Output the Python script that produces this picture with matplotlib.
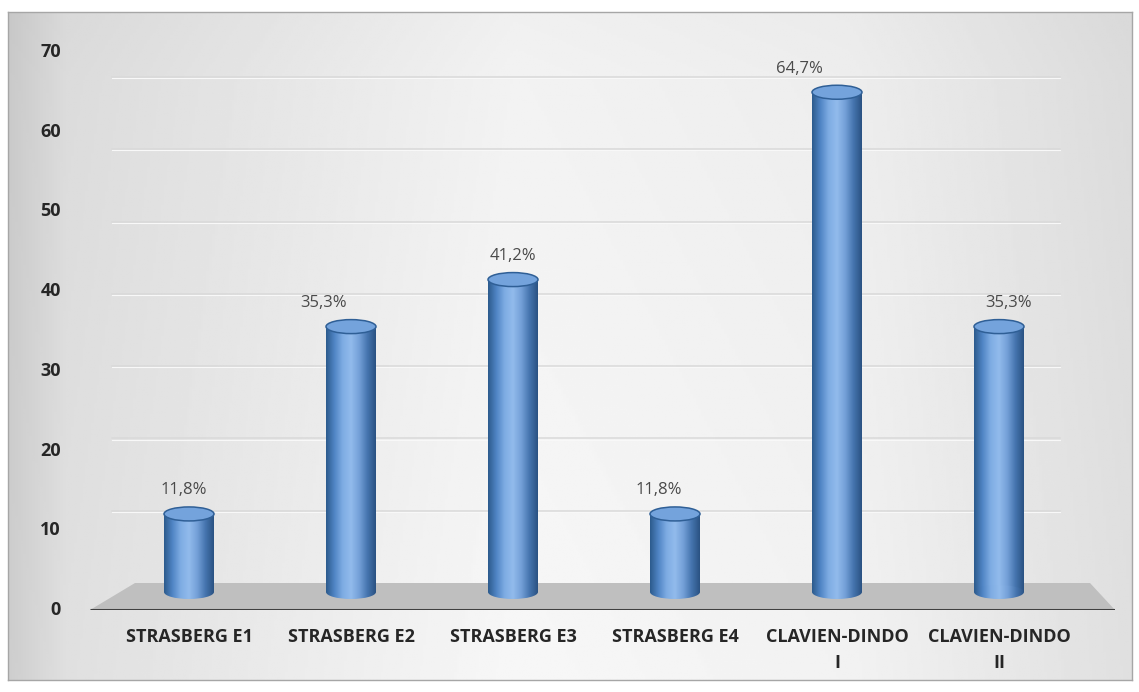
import numpy as np
import matplotlib
matplotlib.use("Agg")
import matplotlib.pyplot as plt
from matplotlib.patches import Rectangle, Ellipse, Polygon
from matplotlib.colors import LinearSegmentedColormap

categories = ["STRASBERG E1", "STRASBERG E2", "STRASBERG E3",
              "STRASBERG E4", "CLAVIEN-DINDO\nI", "CLAVIEN-DINDO\nII"]
values = [11.8, 35.3, 41.2, 11.8, 64.7, 35.3]
value_labels = ["11,8%", "35,3%", "41,2%", "11,8%", "64,7%", "35,3%"]
yticks = [0, 10, 20, 30, 40, 50, 60, 70]

# label nudges in points (Excel auto placement)
label_dx = [-4, -20, 0, -12, -27, 7]

W, H = 1139, 692
fig = plt.figure(figsize=(W / 100, H / 100), dpi=100)
fig.patch.set_facecolor("white")

# gradient background inside thin frame
bg = fig.add_axes([8 / W, 1 - 680 / H, (1132 - 8) / W, (680 - 12) / H])
xs = np.linspace(0, 1, 400)
hz = np.interp(xs, [0, 0.05, 0.45, 0.75, 1.0], [0.79, 0.86, 0.95, 0.93, 0.86])
vt = np.interp(np.linspace(0, 1, 300), [0, 0.1, 1], [0.99, 1.0, 1.02])
img = np.clip(np.outer(vt, hz), 0, 1)
bg.imshow(img, cmap="gray", vmin=0, vmax=1, aspect="auto", extent=[0, 1, 0, 1])
bg.set_xlim(0, 1)
bg.set_ylim(0, 1)
bg.set_xticks([])
bg.set_yticks([])
for s in bg.spines.values():
    s.set_color("#a6a6a6")
    s.set_linewidth(1)

# main axes: front floor edge from x=90 to 1115 px, 0 at 608 px, 70 at 50 px
ppu = (608 - 50) / 70
y_lo = -(610 - 608) / ppu
y_hi = 70 + (50 - 40) / ppu
ax = fig.add_axes([90 / W, 1 - 610 / H, (1115 - 90) / W, (610 - 40) / H])
ax.patch.set_alpha(0)
x0, step = 189, 162
ax.set_xlim((90 - x0) / step, (1115 - x0) / step)
ax.set_ylim(y_lo, y_hi)
for s in ax.spines.values():
    s.set_visible(False)

def px2x(p):
    return (p - x0) / step

def px2y(p):
    return (608 - p) / ppu

# back wall gridlines
for v in yticks[1:]:
    yb = px2y(583) + v * (583 - 77) / 70 / ppu
    ax.plot([px2x(112), px2x(1060)], [yb, yb], color="#d9d9d9", lw=1.1, zorder=1)
    ax.plot([px2x(112), px2x(1060)], [yb - 0.15, yb - 0.15], color="#f8f8f8", lw=0.8, zorder=1)

# floor
floor = Polygon([(px2x(90), px2y(610)), (px2x(135), px2y(583)),
                 (px2x(1090), px2y(583)), (px2x(1115), px2y(610))],
                closed=True, facecolor="#bfbfbf", edgecolor="none", zorder=2)
ax.add_patch(floor)
ax.plot([px2x(90), px2x(1115)], [px2y(609.5), px2y(609.5)], color="#404040", lw=2.2,
        zorder=3, solid_capstyle="butt")

# cylinders
cyl = LinearSegmentedColormap.from_list(
    "cyl", ["#2c5a8c", "#4f84c4", "#7eace3", "#92bbec", "#74a0d8", "#4574ae", "#2a5282"])
grad = np.linspace(0, 1, 256).reshape(1, -1)
bw = 50 / step
base = px2y(592)
eh = 14 / ppu
for i, v in enumerate(values):
    xl, xr = i - bw / 2, i + bw / 2
    body = Rectangle((xl, base), bw, v - base, transform=ax.transData)
    bot = Ellipse((i, base), bw, eh, transform=ax.transData)
    for clip in (body, bot):
        im = ax.imshow(grad, cmap=cyl, aspect="auto", extent=[xl, xr, base - eh, v],
                       zorder=4, interpolation="bilinear")
        im.set_clip_path(clip)
    top = Ellipse((i, v), bw, eh, facecolor="#74a3dc", edgecolor="#2f5f96", lw=1.1, zorder=5)
    ax.add_patch(top)
    ax.annotate(value_labels[i], (i, v), xytext=(label_dx[i], 17), textcoords="offset points",
                ha="center", va="center", fontsize=12, color="#4a4a4a",
                family="Open Sans", zorder=6)

ax.set_xlim((90 - x0) / step, (1115 - x0) / step)
ax.set_ylim(y_lo, y_hi)

ax.set_xticks(range(len(categories)))
ax.set_xticklabels(categories, fontsize=13, fontweight="bold", color="#262626",
                   family="Open Sans", linespacing=1.6)
ax.set_yticks(yticks)
ax.set_yticklabels([str(t) for t in yticks], fontsize=13, fontweight="bold",
                   color="#262626", family="Open Sans")
ax.tick_params(axis="both", length=0)
ax.tick_params(axis="x", pad=13)
ax.tick_params(axis="y", pad=21)

fig.savefig("out.png", dpi=100)
